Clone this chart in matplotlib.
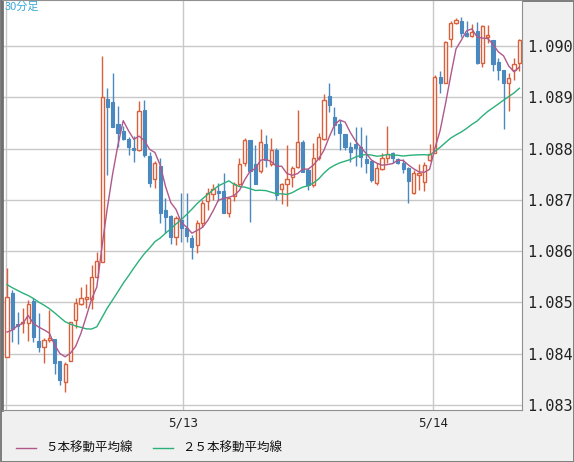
import matplotlib.pyplot as plt
import matplotlib.patches as mpatches
import matplotlib.lines as mlines
import numpy as np
import pandas as pd

plt.rcParams['font.family'] = ['Noto Sans CJK JP', 'DejaVu Sans']

opens = [1.08394, 1.08518, 1.08458, 1.08460, 1.08460, 1.08503, 1.08425, 1.08413, 1.08427, 1.08429,
         1.08386, 1.08345, 1.08386, 1.08466, 1.08497, 1.08507, 1.08507, 1.08550, 1.08579, 1.08897,
         1.08891, 1.08848, 1.08834, 1.08819, 1.08801, 1.08797, 1.08875, 1.08785, 1.08741, 1.08766,
         1.08680, 1.08668, 1.08628, 1.08661, 1.08645, 1.08626, 1.08612, 1.08655, 1.08698, 1.08711,
         1.08717, 1.08717, 1.08674, 1.08707, 1.08731, 1.08772, 1.08817, 1.08770, 1.08756, 1.08809,
         1.08770, 1.08797, 1.08721, 1.08731, 1.08745, 1.08764, 1.08813, 1.08758, 1.08729, 1.08782,
         1.08819, 1.08902, 1.08862, 1.08848, 1.08828, 1.08803, 1.08809, 1.08803, 1.08780, 1.08776,
         1.08733, 1.08760, 1.08782, 1.08791, 1.08780, 1.08772, 1.08762, 1.08713, 1.08748, 1.08735,
         1.08778, 1.08791, 1.08940, 1.08928, 1.09014, 1.09045, 1.09049, 1.09025, 1.09020, 1.09029,
         1.08967, 1.09018, 1.09012, 1.08969, 1.08953, 1.08928, 1.08953, 1.08967]
highs = [1.08567, 1.08524, 1.08481, 1.08489, 1.08505, 1.08509, 1.08479, 1.08431, 1.08485, 1.08429,
         1.08386, 1.08384, 1.08462, 1.08509, 1.08530, 1.08536, 1.08573, 1.08598, 1.08980, 1.08918,
         1.08947, 1.08883, 1.08844, 1.08823, 1.08824, 1.08893, 1.08895, 1.08793, 1.08776, 1.08782,
         1.08704, 1.08670, 1.08668, 1.08713, 1.08713, 1.08631, 1.08661, 1.08700, 1.08723, 1.08731,
         1.08733, 1.08752, 1.08706, 1.08735, 1.08782, 1.08821, 1.08817, 1.08807, 1.08838, 1.08826,
         1.08821, 1.08801, 1.08733, 1.08807, 1.08766, 1.08875, 1.08817, 1.08762, 1.08811, 1.08830,
         1.08906, 1.08928, 1.08881, 1.08856, 1.08828, 1.08813, 1.08842, 1.08842, 1.08826, 1.08778,
         1.08772, 1.08791, 1.08844, 1.08793, 1.08782, 1.08780, 1.08764, 1.08758, 1.08770, 1.08774,
         1.08809, 1.08943, 1.08951, 1.09010, 1.09049, 1.09055, 1.09057, 1.09049, 1.09043, 1.09047,
         1.09041, 1.09041, 1.09012, 1.08977, 1.08953, 1.08947, 1.08977, 1.09014]
lows = [1.08394, 1.08423, 1.08419, 1.08440, 1.08425, 1.08423, 1.08403, 1.08382, 1.08423, 1.08360,
        1.08339, 1.08325, 1.08386, 1.08450, 1.08495, 1.08489, 1.08487, 1.08550, 1.08579, 1.08748,
        1.08842, 1.08803, 1.08817, 1.08787, 1.08774, 1.08795, 1.08784, 1.08725, 1.08723, 1.08655,
        1.08635, 1.08614, 1.08612, 1.08618, 1.08618, 1.08585, 1.08596, 1.08647, 1.08680, 1.08700,
        1.08698, 1.08674, 1.08667, 1.08698, 1.08727, 1.08766, 1.08657, 1.08731, 1.08752, 1.08764,
        1.08766, 1.08700, 1.08692, 1.08688, 1.08725, 1.08762, 1.08754, 1.08719, 1.08725, 1.08778,
        1.08817, 1.08871, 1.08826, 1.08797, 1.08797, 1.08774, 1.08766, 1.08764, 1.08752, 1.08735,
        1.08729, 1.08758, 1.08772, 1.08772, 1.08770, 1.08752, 1.08694, 1.08711, 1.08719, 1.08717,
        1.08776, 1.08791, 1.08908, 1.08928, 1.08998, 1.09043, 1.09018, 1.09018, 1.09018, 1.08965,
        1.08959, 1.09006, 1.08951, 1.08934, 1.08838, 1.08873, 1.08934, 1.08951]
closes = [1.08511, 1.08448, 1.08454, 1.08462, 1.08497, 1.08433, 1.08413, 1.08427, 1.08431, 1.08382,
          1.08349, 1.08380, 1.08462, 1.08499, 1.08509, 1.08511, 1.08550, 1.08581, 1.08901, 1.08881,
          1.08842, 1.08830, 1.08819, 1.08803, 1.08797, 1.08873, 1.08787, 1.08733, 1.08772, 1.08674,
          1.08667, 1.08628, 1.08665, 1.08645, 1.08629, 1.08608, 1.08655, 1.08694, 1.08713, 1.08721,
          1.08713, 1.08674, 1.08704, 1.08731, 1.08770, 1.08817, 1.08756, 1.08731, 1.08813, 1.08778,
          1.08797, 1.08709, 1.08731, 1.08741, 1.08762, 1.08813, 1.08754, 1.08729, 1.08782, 1.08823,
          1.08895, 1.08885, 1.08846, 1.08830, 1.08803, 1.08793, 1.08801, 1.08784, 1.08772, 1.08739,
          1.08762, 1.08782, 1.08789, 1.08782, 1.08772, 1.08760, 1.08737, 1.08752, 1.08752, 1.08768,
          1.08789, 1.08940, 1.08928, 1.09008, 1.09045, 1.09051, 1.09025, 1.09020, 1.09027, 1.08967,
          1.09039, 1.09021, 1.08965, 1.08953, 1.08928, 1.08938, 1.08965, 1.09012]
# closes before the visible window (seed for the moving averages)
prior_closes = [1.08600, 1.08585, 1.08595, 1.08610, 1.08580, 1.08590, 1.08575, 1.08600,
                1.08585, 1.08570, 1.08595, 1.08580, 1.08590, 1.08575, 1.08585, 1.08560,
                1.08470, 1.08440, 1.08420, 1.08450, 1.08430, 1.08410, 1.08440, 1.08420]

day_labels = ['5/13', '5/14']
day_pos = [33.3, 80.7]
yticks = [1.083, 1.084, 1.085, 1.086, 1.087, 1.088, 1.089, 1.090]

UP = '#d9603b'
DOWN = '#4a88c0'
MA5C = '#b0588a'
MA25C = '#2bb07a'

allc = pd.Series(prior_closes + closes)
ma5 = allc.rolling(5).mean().values[len(prior_closes):]
ma25 = allc.rolling(25).mean().values[len(prior_closes):]

fig = plt.figure(figsize=(5.74, 4.62), dpi=100)
fig.patch.set_facecolor('#f0f0f0')
fig.patch.set_edgecolor('#808080')
fig.patch.set_linewidth(2)

ax = fig.add_axes([2/574, 52/462, 520/574, 410/462])
ax.set_facecolor('white')

for y in yticks:
    ax.axhline(y, color='#c8c8c8', lw=1, zorder=0)
for x in [-0.2] + day_pos:
    ax.axvline(x, color='#c8c8c8', lw=1, zorder=0)

w = 0.6
for i, (o, h, l, c) in enumerate(zip(opens, highs, lows, closes)):
    if c >= o:
        ax.vlines(i, l, min(o, c), color=UP, lw=1, zorder=2)
        ax.vlines(i, max(o, c), h, color=UP, lw=1, zorder=2)
        ax.add_patch(mpatches.Rectangle((i - w/2, o), w, max(c - o, 0.000015),
                                        fc='white', ec=UP, lw=1, zorder=3))
    else:
        ax.vlines(i, l, h, color=DOWN, lw=1, zorder=2)
        ax.add_patch(mpatches.Rectangle((i - w/2, c), w, o - c,
                                        fc=DOWN, ec=DOWN, lw=0.8, zorder=3))

xs = np.arange(len(closes))
ax.plot(xs, ma25, color=MA25C, lw=1, zorder=4)
ax.plot(xs, ma5, color=MA5C, lw=1, zorder=4)

ax.set_xlim(-0.95, 97.5)
ax.set_ylim(1.08290, 1.09090)
ax.yaxis.tick_right()
ax.set_yticks(yticks)
ax.set_yticklabels(['%.3f' % v for v in yticks], fontsize=11,
                   family='DejaVu Sans Mono', color='#222222')
ax.set_xticks(day_pos)
ax.set_xticklabels(day_labels, fontsize=9, color='#222222', family='DejaVu Sans Mono')
ax.tick_params(length=0, pad=5)
ax.tick_params(axis='y', pad=4)
for s in ax.spines.values():
    s.set_color('#909090')
ax.spines['left'].set_color('#707070')
ax.spines['left'].set_linewidth(2)

ax.text(0.005, 0.995, '30分足', transform=ax.transAxes, color='#3aa8d8',
        fontsize=8, va='top', ha='left')

ly = 1 - 448/462
fig.add_artist(mlines.Line2D([16/574, 36/574], [ly, ly], color=MA5C, lw=1))
fig.text(45/574, ly, '５本移動平均線', fontsize=9, va='center', color='#111111')
fig.add_artist(mlines.Line2D([153/574, 173/574], [ly, ly], color=MA25C, lw=1))
fig.text(182/574, ly, '２５本移動平均線', fontsize=9, va='center', color='#111111')

fig.savefig('out.png', dpi=100, facecolor=fig.get_facecolor(), edgecolor=fig.get_edgecolor())
